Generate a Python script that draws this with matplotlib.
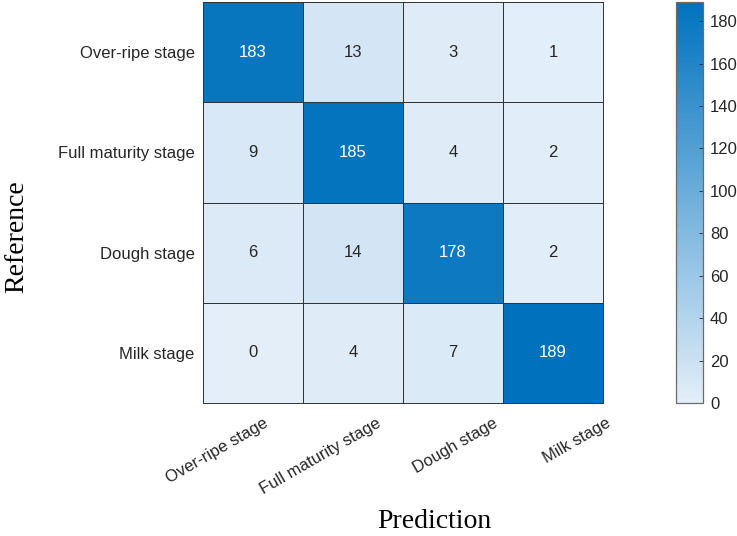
import numpy as np
import matplotlib
matplotlib.use("Agg")
import matplotlib.pyplot as plt
from matplotlib.colors import LinearSegmentedColormap
from matplotlib.transforms import ScaledTranslation

# ---- data ----
row_labels = ["Over-ripe stage", "Full maturity stage", "Dough stage", "Milk stage"]
col_labels = ["Over-ripe stage", "Full maturity stage", "Dough stage", "Milk stage"]
counts = np.array([
    [183, 13, 3, 1],
    [9, 185, 4, 2],
    [6, 14, 178, 2],
    [0, 4, 7, 189],
])
cbar_ticks = [0, 20, 40, 60, 80, 100, 120, 140, 160, 180]

INK = "#262626"
GRID = "#333333"
CMAP = LinearSegmentedColormap.from_list("mat_blue", ["#E3EEF9", "#0072BD"])

plt.rcParams["font.family"] = ["Liberation Sans", "DejaVu Sans"]

fig = plt.figure(figsize=(7.37, 5.36), dpi=100)
ax = fig.add_axes([203 / 737, 1 - 403 / 536, 400 / 737, 401 / 536])
cax = fig.add_axes([676 / 737, 1 - 403 / 536, 27 / 737, 401 / 536])

vmax = counts.max()
mesh = ax.pcolormesh(counts, cmap=CMAP, vmin=0, vmax=vmax,
                     edgecolors=GRID, linewidth=0.7)
ax.set_xlim(0, 4)
ax.set_ylim(4, 0)

for i in range(counts.shape[0]):
    for j in range(counts.shape[1]):
        v = counts[i, j]
        ax.text(j + 0.5, i + 0.5, str(v), ha="center", va="center",
                fontsize=12, color="white" if v > vmax * 0.6 else INK)

ax.set_xticks(np.arange(4) + 0.5)
ax.set_yticks(np.arange(4) + 0.5)
ax.tick_params(axis="x", length=0, pad=9)
ax.tick_params(axis="y", length=0, pad=6)
ax.set_xticklabels(col_labels, rotation=30, ha="right", rotation_mode="anchor",
                   fontsize=12, color=INK)
ax.set_yticklabels(row_labels, fontsize=12, color=INK)
# rotated labels sit progressively right of the cell centres in the original
for lab, dx in zip(ax.get_xticklabels(), [10, 23, 40, 53]):
    lab.set_transform(lab.get_transform() + ScaledTranslation(dx / 100, 0, fig.dpi_scale_trans))

for s in ax.spines.values():
    s.set_color(GRID)
    s.set_linewidth(0.7)

ax.set_xlabel("Prediction", family="Liberation Serif", fontsize=20, color="black", va="baseline")
ax.xaxis.set_label_coords((434 - 203) / 400, (403 - 528) / 401)
ax.set_ylabel("Reference", family="Liberation Serif", fontsize=20, color="black", va="baseline")
ax.yaxis.set_label_coords((23 - 203) / 400, (403 - 237) / 401)

cb = fig.colorbar(mesh, cax=cax, ticks=cbar_ticks)
cb.outline.set_edgecolor("#6B6B6B")
cb.outline.set_linewidth(0.9)
cax.tick_params(labelsize=12, colors=INK, length=3, width=0.6, direction="in", pad=5)

fig.savefig("out.png", dpi=100)
